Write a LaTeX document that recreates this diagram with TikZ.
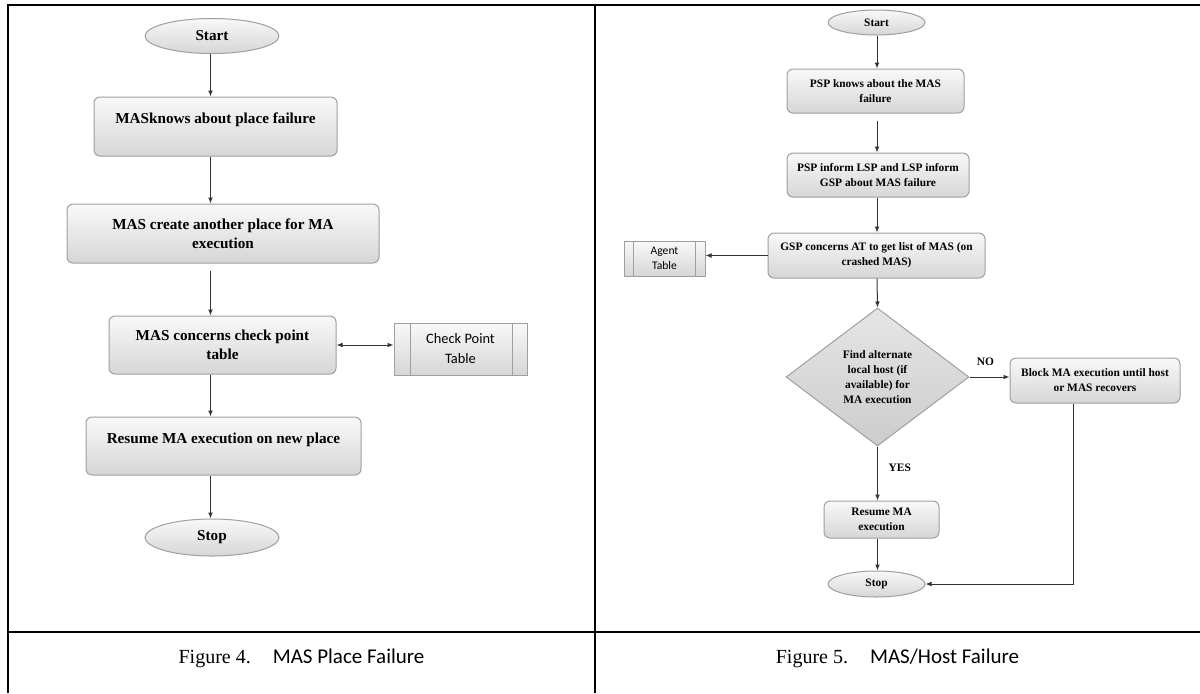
\documentclass[tikz,border=0pt]{standalone}
\usepackage{fontspec}
\setmainfont{Liberation Serif}
\newfontfamily\calibri{Carlito}
\usetikzlibrary{shapes.geometric,arrows.meta}

\tikzset{
  box/.style={draw=gray!75, line width=0.5pt, rounded corners=3pt,
    top color=gray!5, bottom color=gray!32, align=center, inner sep=1pt},
  term/.style={ellipse, draw=gray!75, line width=0.5pt,
    top color=gray!5, bottom color=gray!32, inner sep=0pt},
  tbl/.style={draw=gray!75, line width=0.5pt, top color=gray!5,
    bottom color=gray!32, align=center, inner sep=0pt},
  decide/.style={diamond, draw=gray!75, line width=0.5pt, top color=gray!20,
    bottom color=gray!40, align=center, inner sep=0pt},
  arr/.style={draw=black!80, line width=0.5pt, -{Latex[length=3pt,width=2.4pt]}},
  twoway/.style={draw=black!80, line width=0.5pt,
    {Latex[length=3pt,width=2.4pt]}-{Latex[length=3pt,width=2.4pt]}},
  frame/.style={line width=1.4pt},
  upper/.style={text depth=8pt}
}

\begin{document}
\begin{tikzpicture}[x=0.5pt, y=-0.5pt,
    big/.style={font=\fontsize{7.6}{9.5}\selectfont\bfseries},
    small/.style={font=\fontsize{5.7}{7.5}\selectfont\bfseries}]
  \useasboundingbox (0,0) rectangle (1200,693);

  % table frame
  \draw[frame] (8,693) -- (8,5) -- (1200,5);
  \draw[frame] (8,632) -- (1200,632);
  \draw[frame] (595,5) -- (595,693);

  % left: MAS place failure
  \coordinate (lc) at (210.5,0);
  \path
    (212,36) node[term, big, minimum width=67pt, minimum height=17.5pt] (start1){Start}
    (215.5,126.5) node[box, big, upper, minimum width=121.5pt, minimum height=29.5pt] (box1){MASknows about place failure}
    (223,233.5) node[box, big, minimum width=156pt, minimum height=29.5pt] (box2){MAS create another place for MA\\execution}
    (222.5,345) node[box, big, minimum width=113.5pt, minimum height=29pt] (box3){MAS concerns check point\\table}
    (460.5,349) node[tbl, font=\calibri\fontsize{7.2}{10}\selectfont, minimum width=66.5pt, minimum height=26pt] (cpt){Check Point\\Table}
    (223.5,446) node[box, big, upper, minimum width=137.5pt, minimum height=29pt] (box4){Resume MA execution on new place}
    (212,537.5) node[term, big, minimum width=67pt, minimum height=18.5pt] (stop1){Stop};
  \draw[gray!75, line width=0.5pt] ([xshift=8.5pt]cpt.north west) -- ([xshift=8.5pt]cpt.south west)
    ([xshift=-7.5pt]cpt.north east) -- ([xshift=-7.5pt]cpt.south east);

  \draw[arr] (lc |- start1.south) -- (lc |- box1.north);
  \draw[arr] (lc |- box1.south) -- (lc |- box2.north);
  \draw[arr, shorten <=3.5pt] (lc |- box2.south) -- (lc |- box3.north);
  \draw[arr] (lc |- box3.south) -- (lc |- box4.north);
  \draw[arr] (lc |- box4.south) -- (lc |- stop1.north);
  \draw[twoway] (box3.east) -- (box3.east -| cpt.west);

  % right: MAS/host failure
  \coordinate (rc) at (877,0);
  \path
    (876.5,22.5) node[term, small, minimum width=48.5pt, minimum height=12.5pt] (start2){Start}
    (875.5,91) node[box, small, minimum width=88.5pt, minimum height=22pt] (psp1){PSP knows about the MAS\\failure}
    (878,175) node[box, small, minimum width=91pt, minimum height=22pt] (psp2){PSP inform LSP and LSP inform\\GSP about MAS failure}
    (876.5,255.5) node[box, small, minimum width=108.5pt, minimum height=22.5pt] (gsp){GSP concerns AT to get list of MAS (on\\crashed MAS)}
    (664.5,258.5) node[tbl, font=\calibri\fontsize{5.8}{7.5}\selectfont, minimum width=40.5pt, minimum height=17.5pt] (agent){Agent\\Table}
    (877.5,377) node[decide, small, minimum width=91.5pt, minimum height=69pt] (find){Find alternate\\local host (if\\available) for\\MA execution}
    (1095,380.5) node[box, small, minimum width=85pt, minimum height=22.5pt] (block){Block MA execution until host\\or MAS recovers}
    (881.5,519.5) node[box, small, minimum width=57.5pt, minimum height=18.5pt] (resume){Resume MA\\execution}
    (876.5,584) node[term, small, minimum width=48.5pt, minimum height=13pt] (stop2){Stop};
  \draw[gray!75, line width=0.5pt] ([xshift=5pt]agent.north west) -- ([xshift=5pt]agent.south west)
    ([xshift=-5pt]agent.north east) -- ([xshift=-5pt]agent.south east);

  \draw[arr] (rc |- start2.south) -- (rc |- psp1.north);
  \draw[arr, shorten <=3.5pt] (rc |- psp1.south) -- (rc |- psp2.north);
  \draw[arr] (rc |- psp2.south) -- (rc |- gsp.north);
  \draw[arr] (gsp.west) -- (gsp.west -| agent.east);
  \draw[arr] (rc |- gsp.south) -- (find.north);
  \draw[arr] (find.east) -- (find.east -| block.west) node[small, pos=0.4, above=2pt] (no){NO};
  \draw[arr] (find.south) -- (find.south |- resume.north) node[small, pos=0.4, right=2pt] (yes){YES};
  \draw[arr] (find.south |- resume.south) -- (find.south |- stop2.north);
  \draw[arr] ([xshift=-11pt]block.south) |- (stop2.east);

  % captions
  \path
    (301.5,658) node[font=\fontsize{10}{12}\selectfont] (cap4){Figure 4.\hspace{11pt}{\calibri\fontsize{10.5}{12}\selectfont MAS Place Failure}}
    (897.5,658) node[font=\fontsize{10}{12}\selectfont] (cap5){Figure 5.\hspace{11pt}{\calibri\fontsize{10.5}{12}\selectfont MAS/Host Failure}};
\end{tikzpicture}
\end{document}
